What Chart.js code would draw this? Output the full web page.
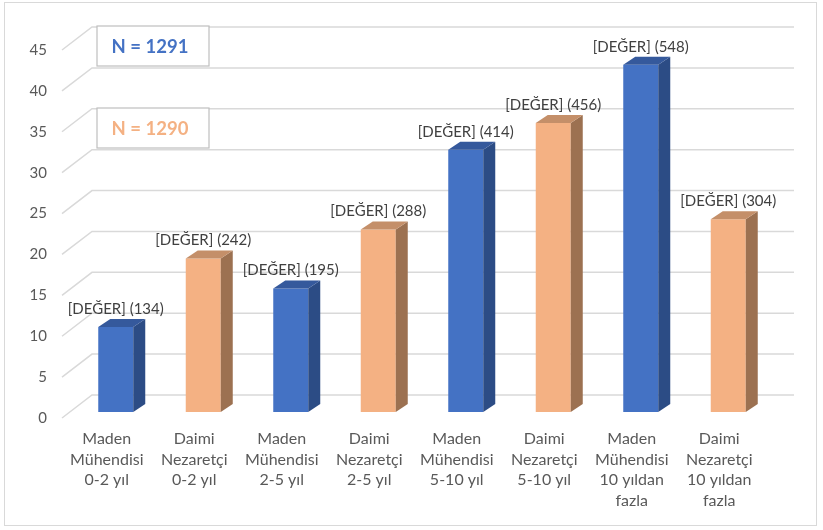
<!DOCTYPE html>
<html>
<head>
<meta charset="utf-8">
<script src="https://cdn.jsdelivr.net/npm/chart.js@4/dist/chart.umd.min.js"></script>
<style>
  html, body { margin: 0; padding: 0; background: #ffffff; }
  #wrap { position: relative; width: 823px; height: 530px; }
  #frame { position: absolute; left: 4px; top: 2px; width: 813px; height: 524px; border: 1.5px solid #d9d9d9; box-sizing: border-box; }
  canvas { position: absolute; left: 0; top: 0; }
</style>
</head>
<body>
<div id="wrap">
  <div id="frame"></div>
  <canvas id="c" width="823" height="530"></canvas>
</div>
<script>
// Categories (multi-line axis labels)
const categories = [
  ['Maden', 'Mühendisi', '0-2 yıl'],
  ['Daimi', 'Nezaretçi', '0-2 yıl'],
  ['Maden', 'Mühendisi', '2-5 yıl'],
  ['Daimi', 'Nezaretçi', '2-5 yıl'],
  ['Maden', 'Mühendisi', '5-10 yıl'],
  ['Daimi', 'Nezaretçi', '5-10 yıl'],
  ['Maden', 'Mühendisi', '10 yıldan', 'fazla'],
  ['Daimi', 'Nezaretçi', '10 yıldan', 'fazla']
];
// Percentages per group
const percents = [10.38, 18.76, 15.10, 22.33, 32.07, 35.35, 42.45, 23.57];
// Respondent counts shown in the labels
const counts = [134, 242, 195, 288, 414, 456, 548, 304];
// Group of each bar: 0 = Maden Mühendisi, 1 = Daimi Nezaretçi
const groups = [0, 1, 0, 1, 0, 1, 0, 1];
const sampleSizes = ['N = 1291', 'N = 1290'];
const yTicks = [0, 5, 10, 15, 20, 25, 30, 35, 40, 45];

const FONT = 'Lato, "Open Sans", sans-serif';
const palette = [
  { front: '#4472C4', side: '#2C4C85', top: '#35599C' },
  { front: '#F4B183', side: '#9C7151', top: '#C48F69' }
];
const DX = 12, DY = -8;        // depth of the 3D extrusion
const FRONT_OFF = 6, BACK_OFF = -17;
const WALL_L = 62, WALL_B = 92, WALL_R = 794;

const wallPlugin = {
  id: 'wall',
  beforeDatasetsDraw(chart) {
    const ctx = chart.ctx, y = chart.scales.y;
    ctx.save();
    ctx.strokeStyle = '#d9d9d9';
    ctx.lineWidth = 1.5;
    yTicks.forEach(v => {
      const p = y.getPixelForValue(v);
      ctx.beginPath();
      ctx.moveTo(WALL_L, p + FRONT_OFF);
      ctx.lineTo(WALL_B, p + BACK_OFF);
      ctx.lineTo(WALL_R, p + BACK_OFF);
      ctx.stroke();
    });
    ctx.restore();
  },
  afterDatasetsDraw(chart) {
    const ctx = chart.ctx;
    const meta = chart.getDatasetMeta(0);
    ctx.save();
    meta.data.forEach((bar, i) => {
      const c = palette[groups[i]];
      const half = bar.width / 2;
      const l = bar.x - half, r = bar.x + half, t = bar.y, b = bar.base;
      // side face
      ctx.fillStyle = c.side;
      ctx.beginPath();
      ctx.moveTo(r, t); ctx.lineTo(r + DX, t + DY); ctx.lineTo(r + DX, b + DY); ctx.lineTo(r, b);
      ctx.closePath(); ctx.fill();
      // top face
      ctx.fillStyle = c.top;
      ctx.beginPath();
      ctx.moveTo(l, t); ctx.lineTo(l + DX, t + DY); ctx.lineTo(r + DX, t + DY); ctx.lineTo(r, t);
      ctx.closePath(); ctx.fill();
      // value label
      ctx.fillStyle = '#404040';
      ctx.font = '15px ' + FONT;
      ctx.textAlign = 'center';
      ctx.textBaseline = 'middle';
      ctx.fillText('[DEĞER] (' + counts[i] + ')', bar.x, t - 18);
    });
    ctx.restore();
  },
  afterDraw(chart) {
    const ctx = chart.ctx;
    ctx.save();
    const boxes = [
      { y: 26, color: palette[0].front, text: sampleSizes[0] },
      { y: 108, color: palette[1].front, text: sampleSizes[1] }
    ];
    boxes.forEach(bx => {
      ctx.fillStyle = '#ffffff';
      ctx.fillRect(97, bx.y, 112, 40);
      ctx.strokeStyle = '#bfbfbf';
      ctx.lineWidth = 1.2;
      ctx.strokeRect(97, bx.y, 112, 40);
      ctx.fillStyle = bx.color;
      ctx.font = 'bold 18.5px ' + FONT;
      ctx.textAlign = 'center';
      ctx.textBaseline = 'middle';
      ctx.fillText(bx.text, 150, bx.y + 21);
    });
    ctx.restore();
  }
};

new Chart(document.getElementById('c'), {
  type: 'bar',
  data: {
    labels: categories,
    datasets: [{
      data: percents,
      backgroundColor: groups.map(g => palette[g].front),
      borderWidth: 0,
      categoryPercentage: 1,
      barPercentage: 0.4
    }]
  },
  options: {
    responsive: false,
    animation: false,
    devicePixelRatio: 1,
    layout: { padding: { left: 0, right: 51, top: 44, bottom: 0 } },
    plugins: { legend: { display: false }, tooltip: { enabled: false } },
    scales: {
      y: {
        min: 0, max: 45,
        afterFit(s) { s.width = 72; },
        grid: { display: false, drawTicks: false },
        border: { display: false },
        ticks: {
          stepSize: 5,
          padding: 25,
          labelOffset: FRONT_OFF,
          color: '#595959',
          font: { family: FONT, size: 15 }
        }
      },
      x: {
        afterFit(s) { s.height = 530 - 412; },
        grid: { display: false, drawTicks: false },
        border: { display: false },
        ticks: {
          padding: 17,
          labelOffset: -9,
          maxRotation: 0,
          autoSkip: false,
          color: '#595959',
          font: { family: FONT, size: 16, lineHeight: 1.28 }
        }
      }
    }
  },
  plugins: [wallPlugin]
});
</script>
</body>
</html>
